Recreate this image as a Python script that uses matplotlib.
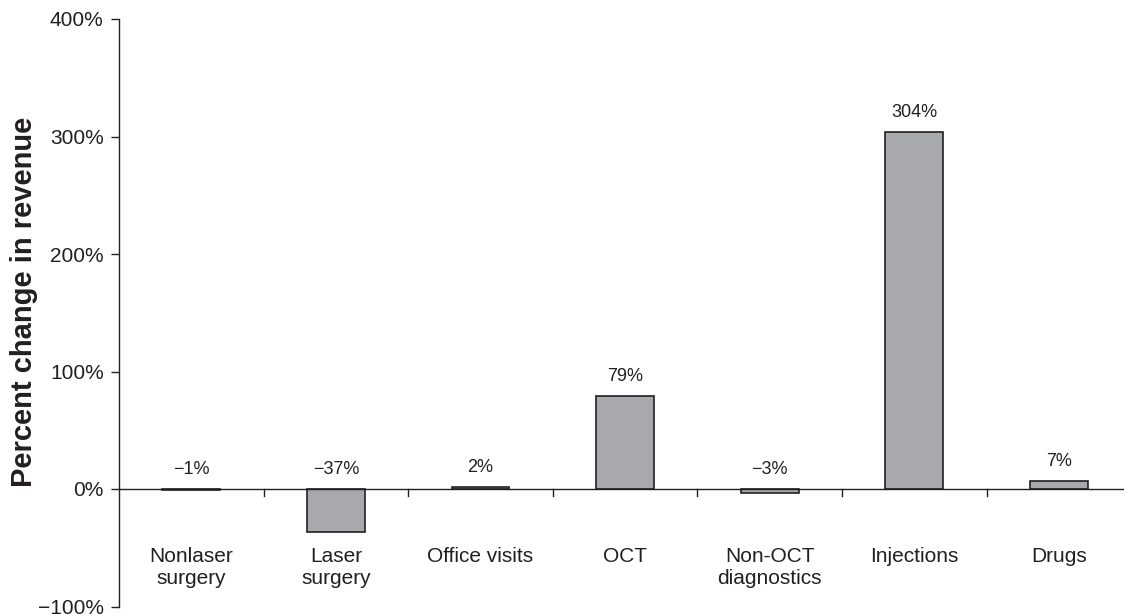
import matplotlib
matplotlib.use("Agg")
import matplotlib.pyplot as plt
import numpy as np

plt.rcParams["font.family"] = ["Liberation Sans", "DejaVu Sans"]

categories = ["Nonlaser\nsurgery", "Laser\nsurgery", "Office visits", "OCT",
              "Non-OCT\ndiagnostics", "Injections", "Drugs"]
values = [-1, -37, 2, 79, -3, 304, 7]
yticks = [-100, 0, 100, 200, 300, 400]

ink = "#231f20"
bar_color = "#a7a9ac"

fig = plt.figure(figsize=(11.27, 6.14), dpi=100)
ax = fig.add_axes([119 / 1127, 1 - 606.5 / 614, 1005 / 1127, 587.5 / 614])

x = np.arange(len(categories))
ax.bar(x, values, width=0.4, color=bar_color, edgecolor=ink, linewidth=1.2, zorder=2)

# zero line with tick marks between categories
ax.axhline(0, color=ink, linewidth=1.0, zorder=3)
for b in np.arange(0.5, len(categories) - 1, 1.0):
    ax.plot([b, b], [0, -6], color=ink, linewidth=1.0, clip_on=False, zorder=3)

for xi, v in zip(x, values):
    label = f"{v}%".replace("-", "\u2212")
    ax.annotate(label, (xi, max(v, 0)), xytext=(0, 8), textcoords="offset points",
                ha="center", va="bottom", fontsize=13, color=ink)

for xi, c in zip(x, categories):
    ax.text(xi, -49, c, ha="center", va="top", fontsize=15, color=ink,
            linespacing=1.2)

ax.set_xlim(-0.5, 6.45)
ax.set_ylim(-100, 400)
ax.set_yticks(yticks)
ax.set_yticklabels([f"{t}%".replace("-", "\u2212") for t in yticks])
ax.set_xticks([])
ax.tick_params(axis="y", direction="out", length=6, width=1.0, colors=ink,
               labelsize=15, pad=5)
ax.set_ylabel("Percent change in revenue", fontsize=21, fontweight="bold",
              color=ink, va="center")
ax.yaxis.set_label_coords(-0.0945, 0.518)

for side in ["top", "right", "bottom"]:
    ax.spines[side].set_visible(False)
ax.spines["left"].set_color(ink)
ax.spines["left"].set_linewidth(1.0)

fig.savefig("out.png", dpi=100)
